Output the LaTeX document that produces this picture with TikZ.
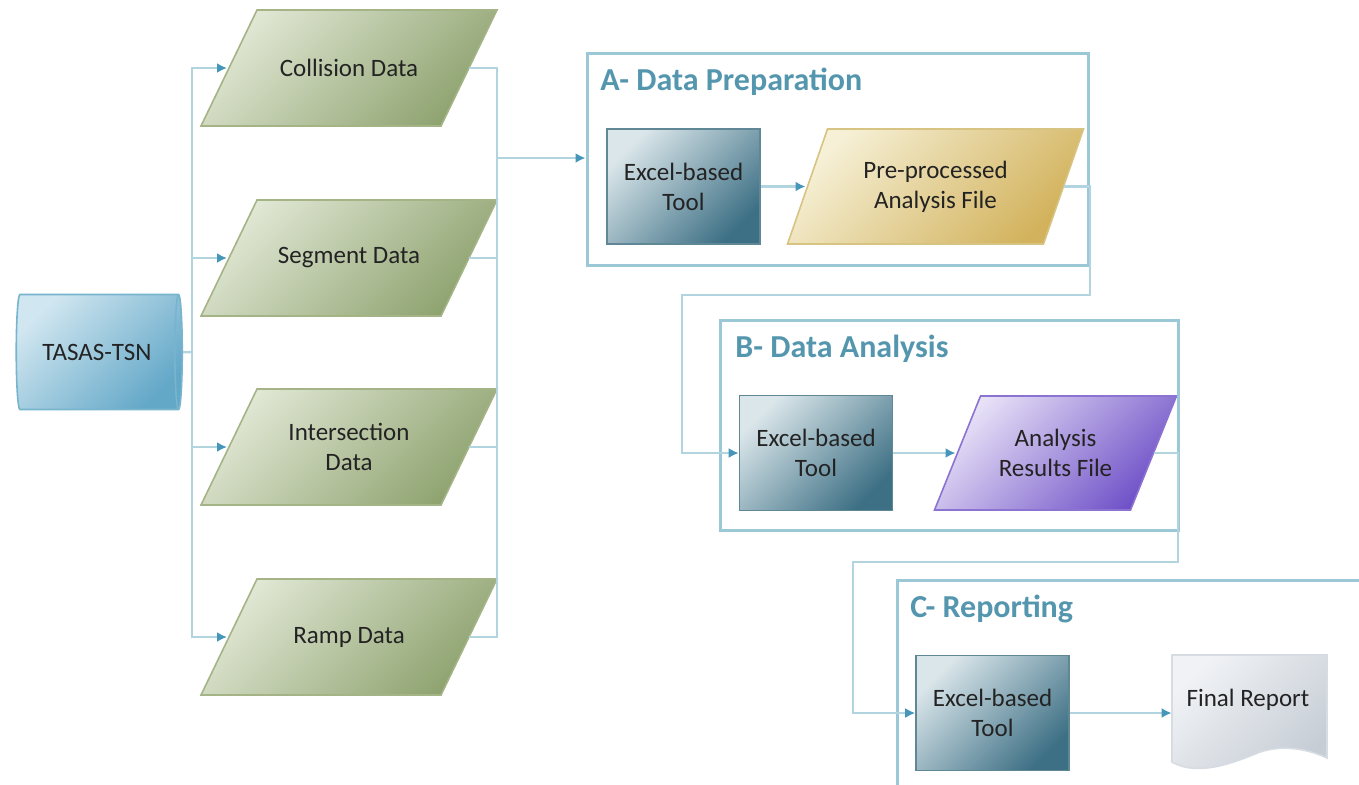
\documentclass[tikz,border=0pt]{standalone}
\usepackage{fontspec}
\setmainfont{Carlito}
\usetikzlibrary{shapes.geometric,arrows.meta}
\definecolor{connc}{RGB}{178,212,222}
\definecolor{boxc}{RGB}{155,200,215}
\definecolor{arrc}{RGB}{70,150,185}
\definecolor{titlec}{RGB}{85,150,175}
\definecolor{greenl}{RGB}{224,231,212}
\definecolor{greend}{RGB}{143,163,112}
\definecolor{greenb}{RGB}{165,180,135}
\definecolor{excell}{RGB}{218,230,234}
\definecolor{exceld}{RGB}{62,112,133}
\definecolor{excelb}{RGB}{95,135,150}
\definecolor{goldl}{RGB}{246,240,214}
\definecolor{goldd}{RGB}{210,178,92}
\definecolor{goldb}{RGB}{215,195,130}
\definecolor{purpl}{RGB}{232,226,247}
\definecolor{purpd}{RGB}{112,82,200}
\definecolor{purpb}{RGB}{140,115,210}
\definecolor{tasasl}{RGB}{208,230,240}
\definecolor{tasasd}{RGB}{100,168,200}
\definecolor{tasasb}{RGB}{120,180,205}
\definecolor{repl}{RGB}{240,242,245}
\definecolor{repd}{RGB}{198,205,213}
\definecolor{repb}{RGB}{215,220,226}
\definecolor{txtc}{RGB}{35,35,35}
\newcommand\myNodeFont{\fontsize{12.5}{15}\selectfont}
\newcommand\myTitleFont{\fontsize{16}{18}\selectfont\bfseries}
\pgfdeclarelayer{bg}
\pgfsetlayers{bg,main}
\begin{document}
\begin{tikzpicture}[x=0.5pt,y=-0.5pt,
  conn/.style={draw=connc, line width=1.25pt},
  arr/.style={conn, -{Latex[length=5pt,width=5pt,color=arrc]}},
  groupbox/.style={draw=boxc, line width=1.5pt, rectangle, inner sep=0pt},
  grouptitle/.style={anchor=west, text=titlec, font=\myTitleFont, inner sep=0pt},
  paranode/.style={rectangle, inner sep=0pt, outer sep=0pt, align=center, font=\myNodeFont, text=txtc},
  greenfill/.style={draw=greenb, line width=0.8pt, top color=greenl, bottom color=greend, shading angle=45},
  goldfill/.style={draw=goldb, line width=0.8pt, top color=goldl, bottom color=goldd, shading angle=45},
  purpfill/.style={draw=purpb, line width=0.8pt, top color=purpl, bottom color=purpd, shading angle=45},
  tool/.style={rectangle, minimum width=76.5pt, minimum height=57.5pt, inner sep=0pt,
    draw=excelb, line width=0.8pt, top color=excell, bottom color=exceld, shading angle=45,
    align=center, font=\myNodeFont, text=txtc}]
\useasboundingbox (0,0) rectangle (1359,784);
\clip (0,0) rectangle (1359,784);

% group boxes
\node[groupbox, minimum width=250.5pt, minimum height=106pt] (boxA) at (837.5,159) {};
\node[groupbox, minimum width=229pt, minimum height=105pt] (boxB) at (949,425) {};
\draw[draw=boxc, line width=1.5pt] (1400,580) -- (897,580) -- (897,800);
\node[grouptitle] (tA) at (600,82) {A- Data Preparation};
\node[grouptitle] (tB) at (735,349) {B- Data Analysis};
\node[grouptitle] (tC) at (910,609) {C- Reporting};

% source
\node[cylinder, shape border rotate=0, aspect=0.45, minimum width=57.5pt, minimum height=83pt,
  inner sep=0pt, draw=tasasb, line width=0.8pt, top color=tasasl, bottom color=tasasd, shading angle=45,
  font=\myNodeFont, text=txtc] (tasas) at (97,352) {TASAS-TSN};

% data parallelograms (body node + slanted outline on background layer)
\foreach \nm/\cy/\txt in {p1/68/Collision Data, p2/258/Segment Data, p3/447/Intersection\\Data, p4/637/Ramp Data}{
  \node[paranode, minimum width=120pt, minimum height=58pt] (\nm) at (349,\cy) {\txt};
  \begin{pgfonlayer}{bg}
    \path[greenfill] ([xshift=-14pt]\nm.south west) -- ([xshift=-14pt]\nm.south east)
      -- ([xshift=14pt]\nm.north east) -- ([xshift=14pt]\nm.north west) -- cycle;
  \end{pgfonlayer}
}

% A
\node[tool] (exA) at (683.5,186.5) {Excel-based\\Tool};
\node[paranode, minimum width=128pt, minimum height=57.5pt] (preA) at (935.5,186.5) {Pre-processed\\Analysis File};
\begin{pgfonlayer}{bg}
  \path[goldfill] ([xshift=-10pt]preA.south west) -- ([xshift=-10pt]preA.south east)
    -- ([xshift=10pt]preA.north east) -- ([xshift=10pt]preA.north west) -- cycle;
\end{pgfonlayer}
% B
\node[tool] (exB) at (816,453) {Excel-based\\Tool};
\node[paranode, minimum width=98pt, minimum height=57pt] (resB) at (1055.5,453) {Analysis\\Results File};
\begin{pgfonlayer}{bg}
  \path[purpfill] ([xshift=-11.5pt]resB.south west) -- ([xshift=-11.5pt]resB.south east)
    -- ([xshift=11.5pt]resB.north east) -- ([xshift=11.5pt]resB.north west) -- cycle;
\end{pgfonlayer}
% C
\node[tool] (exC) at (992.5,713) {Excel-based\\Tool};
\node[rectangle, minimum width=77.5pt, minimum height=52pt, inner sep=0pt] (report) at (1249.5,710) {};
\path[draw=repb, line width=0.8pt, top color=repl, bottom color=repd, shading angle=45]
  (1172,655) -- (1327,655) -- (1327,758)
  .. controls (1310,750) and (1285,744) .. (1260,752)
  .. controls (1240,760) and (1200,778) .. (1172,762) -- cycle;
\node[font=\myNodeFont, text=txtc] (reptext) at (1248,700) {Final Report};

% connectors
\coordinate (busL) at (192,352);
\coordinate (busR) at (497,158);
\draw[conn] (tasas.east) -- (busL);
\draw[arr] (busL) |- ([xshift=-1pt]p1.west);
\draw[arr] (busL) |- ([xshift=-1pt]p2.west);
\draw[arr] (busL) |- ([xshift=-1pt]p3.west);
\draw[arr] (busL) |- ([xshift=-1pt]p4.west);
\draw[conn] (p1.east) -| (busR);
\draw[conn] (p2.east) -| (busR);
\draw[conn] (p3.east) -| (busR);
\draw[conn] (p4.east) -| (busR);
\draw[arr] (busR) -- (busR -| boxA.west);

\draw[arr] (exA.east) -- ([xshift=-1pt]preA.west);
\coordinate (ab1) at (1090,295);
\coordinate (ab2) at (682,295);
\draw[arr] (preA.east) -| (ab1) -- (ab2) |- (exB.west);

\draw[arr] (exB.east) -- ([xshift=-1pt]resB.west);
\coordinate (bc1) at (1178,562);
\coordinate (bc2) at (853,562);
\draw[arr] (resB.east) -| (bc1) -- (bc2) |- (exC.west);

\draw[arr] (exC.east) -- (exC.east -| report.west);
\end{tikzpicture}
\end{document}
